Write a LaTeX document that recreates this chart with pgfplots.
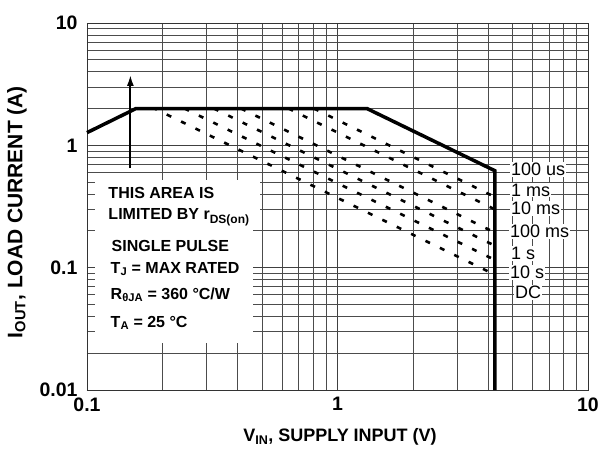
\documentclass[border=0pt]{standalone}
\usepackage{fontspec}
\setmainfont{Liberation Sans}
\usepackage{pgfplots}
\pgfplotsset{compat=1.18}
\usetikzlibrary{arrows.meta}
\begin{document}
\begin{tikzpicture}[x=1pt,y=1pt]
\begin{axis}[
  at={(87pt,63pt)}, anchor=south west,
  scale only axis, width=501pt, height=367pt,
  xmode=log, ymode=log,
  xmin=0.1, xmax=10, ymin=0.01, ymax=10,
  xtick={0.1,1,10}, xticklabels={0.1,1,10},
  ytick={0.01,0.1,1,10}, yticklabels={0.01,0.1,1,10},
  major tick length=0pt, minor tick length=0pt,
  grid=both,
  major grid style={black!75, line width=0.7pt},
  minor grid style={black!70, line width=0.7pt},
  axis line style={black!80, line width=0.8pt},
  ticklabel style={font=\fontsize{19.5}{21}\selectfont\bfseries},
  xticklabel style={yshift=-4pt},
  yticklabel style={xshift=-6pt},
  xlabel={V\textsubscript{IN}, SUPPLY INPUT (V)},
  ylabel={I\textsubscript{OUT}, LOAD CURRENT (A)},
  xlabel style={font=\fontsize{18}{20}\selectfont\bfseries, at={(rel axis cs:0.505,-0.128)}, anchor=center},
  ylabel style={font=\fontsize{21}{23}\selectfont\bfseries, at={(rel axis cs:-0.14,0.485)}, anchor=center},
  clip=false,
]
\fill[white] (rel axis cs:0.016,0.441) rectangle (rel axis cs:0.345,0.572);
\fill[white] (rel axis cs:0.016,0.128) rectangle (rel axis cs:0.331,0.442);

% 100 us / boundary
\addplot[black, line width=3.5pt, line join=miter] coordinates {(0.1,1.27) (0.157,2) (1.31,2) (4.25,0.62) (4.25,0.01)};
% pulse lines
\addplot[black, line width=2.6pt, dash pattern=on 5pt off 11pt] coordinates {(0.805,2) (4.2,0.383)};
\addplot[black, line width=2.6pt, dash pattern=on 5pt off 11pt] coordinates {(0.637,2) (4.2,0.303)};
\addplot[black, line width=2.6pt, dash pattern=on 5pt off 11pt] coordinates {(0.412,2) (4.2,0.196)};
\addplot[black, line width=2.6pt, dash pattern=on 5pt off 11pt] coordinates {(0.321,2) (4.2,0.153)};
\addplot[black, line width=2.6pt, dash pattern=on 5pt off 11pt] coordinates {(0.245,2) (4.2,0.117)};
\addplot[black, line width=2.6pt, dash pattern=on 5pt off 11pt] coordinates {(0.157,2) (0.186,2) (4.2,0.0886)};
% arrow
\addplot[black, line width=1.8pt, -{Latex[length=11pt,width=7pt]}] coordinates {(0.149,0.65) (0.149,3.76)};

\begin{scope}[every node/.style={anchor=west, fill=white, inner sep=1pt, font=\fontsize{18}{20}\selectfont}]
\node at (rel axis cs:0.844,0.6012) {100 us};
\node at (rel axis cs:0.844,0.545) {1 ms};
\node at (rel axis cs:0.844,0.495) {10 ms};
\node at (rel axis cs:0.842,0.4313) {100 ms};
\node at (rel axis cs:0.844,0.3725) {1 s};
\node at (rel axis cs:0.842,0.3196) {10 s};
\node at (rel axis cs:0.852,0.2651) {DC};
\end{scope}

\begin{scope}[every node/.style={anchor=base west, inner sep=0pt, font=\fontsize{16}{18}\selectfont\bfseries}]
\node at (rel axis cs:0.0425,0.5223) {THIS AREA IS};
\node at (rel axis cs:0.0425,0.4651) {LIMITED BY r\raisebox{-0.45ex}{\fontsize{12}{12}\selectfont DS(on)}};
\node at (rel axis cs:0.049,0.3768) {SINGLE PULSE};
\node at (rel axis cs:0.047,0.318) {T\textsubscript{J} = MAX RATED};
\node at (rel axis cs:0.047,0.2471) {R\textsubscript{θJA} = 360 °C/W};
\node at (rel axis cs:0.047,0.1708) {T\textsubscript{A} = 25 °C};
\end{scope}
\end{axis}
\pgfresetboundingbox
\path (0,0) rectangle (608,453);
\end{tikzpicture}
\end{document}
